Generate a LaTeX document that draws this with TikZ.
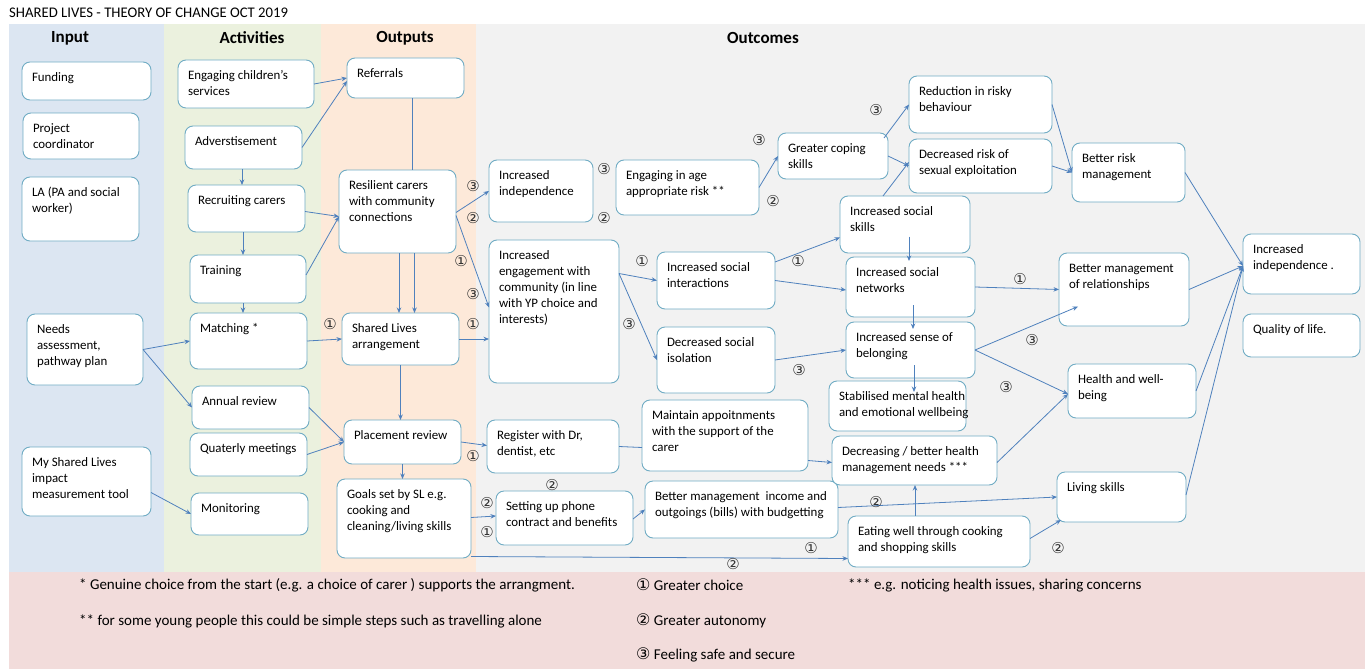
\documentclass[tikz,border=0pt]{standalone}
\usepackage{fontspec}
\setmainfont{Carlito}
\newfontfamily\dv{DejaVu Sans}
\usetikzlibrary{arrows.meta}
\definecolor{inbg}{RGB}{220,230,242}
\definecolor{actbg}{RGB}{235,241,222}
\definecolor{outbg}{RGB}{253,233,217}
\definecolor{ocbg}{RGB}{242,242,242}
\definecolor{legbg}{RGB}{242,220,219}
\definecolor{bxline}{RGB}{112,172,196}
\definecolor{arblue}{RGB}{79,129,189}
\tikzset{
  bx/.style={draw=bxline, line width=0.9pt, fill=white, rounded corners=8pt, inner sep=0pt, outer sep=0pt,
    font=\fontsize{12.9}{16}\selectfont},
  ar/.style={draw=arblue, line width=0.8pt, -{Stealth[length=5.5pt,width=4.5pt]}},
  ln/.style={draw=arblue, line width=0.8pt},
  cn/.style={font=\dv\fontsize{15}{15}\selectfont, text=black!80, inner sep=0pt},
  hd/.style={font=\bfseries\fontsize{17}{18}\selectfont, inner sep=0pt},
  lg/.style={anchor=west, inner sep=0pt, font=\fontsize{15}{16}\selectfont}
}
\newcommand\bx[6]{%
  \node[bx, minimum width={(#4-#2)*1pt}, minimum height={(#5-#3)*1pt}] (#1) at ({(#2+#4)/2},{(#3+#5)/2})
  {\parbox[c][\dimexpr(#5pt-#3pt)-16pt\relax][t]{\dimexpr(#4pt-#2pt)-20pt\relax}{\begin{tabular}[t]{@{}l@{}}#6\end{tabular}}};}
\begin{document}
\begin{tikzpicture}[x=1pt,y=-1pt]
\useasboundingbox (0,0) rectangle (1370,669);
% backgrounds
\fill[inbg] (9,24) rectangle (164,572);
\fill[actbg] (164,24) rectangle (321,572);
\fill[outbg] (321,24) rectangle (476,572);
\fill[ocbg] (476,24) rectangle (1365,572);
\fill[legbg] (9,572) rectangle (1365,669);
\node[anchor=west, inner sep=0pt, font=\fontsize{14.7}{15}\selectfont] (title) at (9,13) {SHARED LIVES - THEORY OF CHANGE OCT 2019};
\node[hd] (hin) at (70,38) {Input};
\node[hd] (hact) at (252,38) {Activities};
\node[hd] (hout) at (405,38) {Outputs};
\node[hd] (hoc) at (763,38) {Outcomes};
% input
\bx{fund}{22}{62}{151}{100}{Funding}
\bx{proj}{23}{113}{139}{159}{Project\\coordinator}
\bx{la}{22}{177}{139}{241}{LA (PA and social\\worker)}
\bx{needs}{27}{314}{143}{385}{Needs\\assessment,\\pathway plan}
\bx{my}{22}{447}{151}{516}{My Shared Lives\\impact\\measurement tool}
% activities
\bx{eng}{178}{60}{314}{108}{Engaging children's\\services}
\bx{adv}{185}{126}{302}{169}{Adverstisement}
\bx{rec}{188}{185}{305}{232}{Recruiting carers}
\bx{train}{190}{255}{306}{303}{Training}
\bx{match}{190}{313}{307}{369}{Matching *}
\bx{annual}{192}{386}{309}{429}{Annual review}
\bx{quat}{190}{433}{307}{476}{Quaterly meetings}
\bx{mon}{191}{493}{308}{535}{Monitoring}
% outputs
\bx{ref}{347}{58}{464}{98}{Referrals}
\bx{res}{339}{170}{456}{253}{Resilient carers\\with community\\connections}
\bx{sla}{342}{313}{459}{365}{Shared Lives\\arrangement}
\bx{plr}{344}{420}{461}{464}{Placement review}
\bx{goals}{337}{479}{471}{558}{Goals set by SL e.g.\\cooking and\\cleaning/living skills}
% outcomes
\bx{iind}{489}{160}{593}{222}{Increased\\independence}
\bx{ieng}{489}{240}{619}{383}{Increased\\engagement with\\community (in line\\with YP choice and\\interests)}
\bx{risk}{616}{160}{759}{215}{Engaging in age\\appropriate risk **}
\bx{sint}{657}{252}{775}{309}{Increased social\\interactions}
\bx{siso}{657}{327}{775}{393}{Decreased social\\isolation}
\bx{reg}{487}{420}{619}{473}{Register with Dr,\\dentist, etc}
\bx{maint}{642}{400}{808}{471}{Maintain appoitnments\\with the support of the\\carer}
\bx{phone}{496}{491}{633}{545}{Setting up phone\\contract and benefits}
\bx{bmi}{645}{481}{838}{538}{Better management\ \ income and\\outgoings (bills) with budgetting}
\bx{cope}{778}{133}{888}{179}{Greater coping\\skills}
\bx{redu}{909}{76}{1052}{133}{Reduction in risky\\behaviour}
\bx{sexr}{909}{139}{1052}{193}{Decreased risk of\\sexual exploitation}
\bx{brm}{1072}{143}{1185}{202}{Better risk\\management}
\bx{sskill}{840}{196}{970}{253}{Increased social\\skills}
\bx{snet}{846}{257}{975}{317}{Increased social\\networks}
\bx{belong}{846}{322}{975}{378}{Increased sense of\\belonging}
\bx{stab}{829}{381}{966}{431}{Stabilised mental health\\and emotional wellbeing}
\bx{dech}{832}{436}{997}{485}{Decreasing / better health\\management needs ***}
\bx{eat}{848}{516}{1030}{567}{Eating well through cooking\\and shopping skills}
\bx{bmr}{1059}{253}{1189}{326}{Better management\\of relationships}
\bx{hwb}{1068}{364}{1196}{418}{Health and well-\\being}
\bx{liv}{1057}{472}{1186}{522}{Living skills}
\bx{iind2}{1243}{234}{1360}{294}{Increased\\independence .}
\bx{qol}{1243}{314}{1360}{357}{Quality of life.}
% connectors
\draw[ar] (eng.east) -- (ref.west);
\draw[ar] (adv.east) -- ([yshift=-3pt]ref.west);
\draw[ar] ([xshift=-1.5pt]adv.south) -- ([xshift=-1.5pt]adv.south |- rec.north);
\draw[ar] ([xshift=-3.5pt]rec.south) -- ([xshift=-3.5pt]rec.south |- train.north);
\draw[ar] ([yshift=-3pt]rec.east) -- ([yshift=-5pt]res.west);
\draw[ar] ([yshift=4pt]train.east) -- ([yshift=-5pt]res.west);
\draw[ar] ([xshift=-5pt]train.south) -- ([xshift=-5pt]train.south |- match.north);
\draw[ar] (needs.east) -- (match.west);
\draw[ar] (needs.east) -- (annual.west);
\draw[ar] ([yshift=-11pt]my.east) -- (mon.west);
\draw[ar] (match.east) -- (sla.west);
\draw[ar] (annual.east) -- (plr.west);
\draw[ar] (quat.east) -- (plr.west);
\draw[ln] ([xshift=6.5pt]ref.south) -- ([xshift=6.5pt]ref.south |- res.north);
\draw[ar] ([xshift=1.5pt]res.south) -- ([xshift=1.5pt]res.south |- sla.north);
\draw[ar] ([xshift=17pt]res.south) -- ([xshift=17pt]res.south |- sla.north);
\draw[ar] (sla.south) -- (sla.south |- plr.north);
\draw[ar] (plr.south) -- (plr.south |- goals.north);
\draw[ar] ([yshift=-1pt]res.east) -- (iind.west);
\draw[ar] ([yshift=-4pt]res.east) -- ([yshift=4pt]ieng.west);
\draw[ar] (sla.east) -- (ieng.west |- sla.east);
\draw[ar] ([yshift=38pt]ieng.east) -- (sint.west);
\draw[ar] ([yshift=38pt]ieng.east) -- (siso.west);
\draw[ar] (risk.east) -- (cope.west);
\draw[ar] ([xshift=-4pt,yshift=-5pt]cope.north east) -- (redu.west);
\draw[ar] (cope.east) -- (sexr.west);
\draw[ar] ([xshift=-22pt]sskill.north) -- ([yshift=4pt]sexr.west);
\draw[ar] (redu.east) -- (brm.west);
\draw[ar] (sexr.east) -- (brm.west);
\draw[ar] ([yshift=-10pt]sint.north east) -- ([yshift=-13pt]sskill.west);
\draw[ar] (sint.east) -- ([yshift=-3pt]snet.west);
\draw[ar] ([xshift=4pt,yshift=-12pt]sskill.center) -- ([xshift=-1.5pt,yshift=-4pt]snet.north);
\draw[ar] ([xshift=2.5pt,yshift=-18pt]snet.center) -- ([xshift=2.5pt,yshift=-7pt]belong.north);
\draw[ar] ([xshift=3.5pt,yshift=-15pt]belong.center) -- ([xshift=16.5pt,yshift=-11pt]stab.north);
\draw[ar] (siso.east) -- (belong.west);
\draw[ar] (snet.east) -- (bmr.west);
\draw[ar] (belong.east) -- ([xshift=-46pt,yshift=-17pt]bmr.center);
\draw[ar] (belong.east) -- ([yshift=-3pt]hwb.west);
\draw[ar] ([yshift=-2pt]dech.east) -- ([yshift=-3pt]hwb.west);
\draw[ar] (brm.east) -- ([yshift=-2pt]iind2.west);
\draw[ar] (bmr.east) -- ([yshift=-2pt]iind2.west);
\draw[ar] (hwb.east) -- ([yshift=-2pt]iind2.west);
\draw[ar] ([yshift=2pt]liv.east) -- ([yshift=-2pt]iind2.west);
\draw[ar] (plr.east) -- ([yshift=1pt]reg.west);
\draw[ln] (reg.east) -- ([yshift=-12pt]maint.west);
\draw[ar] ([yshift=-25pt]maint.east) -- ([yshift=-2pt]dech.west);
\draw[ar] ([yshift=1pt]goals.east) -- ([yshift=2pt]phone.west);
\draw[ar] ([yshift=-1pt]phone.east) -- (bmi.west);
\draw[ar] ([yshift=2pt]bmi.east) -- (liv.west);
\draw[ar] ([yshift=-38pt]goals.east) -- ([yshift=-17pt]eat.west);
\draw[ar] ([xshift=-24pt]eat.north) -- ([xshift=-24pt]eat.north |- dech.south);
\draw[ar] ([yshift=3pt]eat.east) -- ([xshift=4pt,yshift=2pt]liv.south west);
% circled labels
\node[cn] (c1) at (330,324) {①};
\node[cn] (c2) at (473,186) {③};
\node[cn] (c3) at (473,218) {②};
\node[cn] (c4) at (461,261) {①};
\node[cn] (c5) at (473,294) {③};
\node[cn] (c6) at (473,324) {①};
\node[cn] (c7) at (604,169) {③};
\node[cn] (c8) at (604,218) {②};
\node[cn] (c9) at (642,261) {①};
\node[cn] (c10) at (629,324) {③};
\node[cn] (c11) at (759,140) {③};
\node[cn] (c12) at (773,201) {②};
\node[cn] (c13) at (876,110) {③};
\node[cn] (c14) at (798,261) {①};
\node[cn] (c15) at (799,370) {③};
\node[cn] (c16) at (1020,279) {①};
\node[cn] (c17) at (1032,340) {③};
\node[cn] (c18) at (1006,387) {③};
\node[cn] (c19) at (473,456) {①};
\node[cn] (c20) at (552,485) {②};
\node[cn] (c21) at (487,503) {②};
\node[cn] (c22) at (487,532) {①};
\node[cn] (c23) at (876,502) {②};
\node[cn] (c24) at (811,548) {①};
\node[cn] (c25) at (733,564) {②};
\node[cn] (c26) at (1058,548) {②};
% legend
\node[lg] (lg1) at (79,585) {* Genuine choice from the start (e.g. a choice of carer ) supports the arrangment.};
\node[lg] (lg2) at (79,621) {** for some young people this could be simple steps such as travelling alone};
\node[lg] (lg3) at (636,585) {{\dv\fontsize{16}{16}\selectfont ①} Greater choice};
\node[lg] (lg4) at (636,621) {{\dv\fontsize{16}{16}\selectfont ②} Greater autonomy};
\node[lg] (lg5) at (636,655) {{\dv\fontsize{16}{16}\selectfont ③} Feeling safe and secure};
\node[lg] (lg6) at (848,585) {*** e.g. noticing health issues, sharing concerns};
\end{tikzpicture}
\end{document}
